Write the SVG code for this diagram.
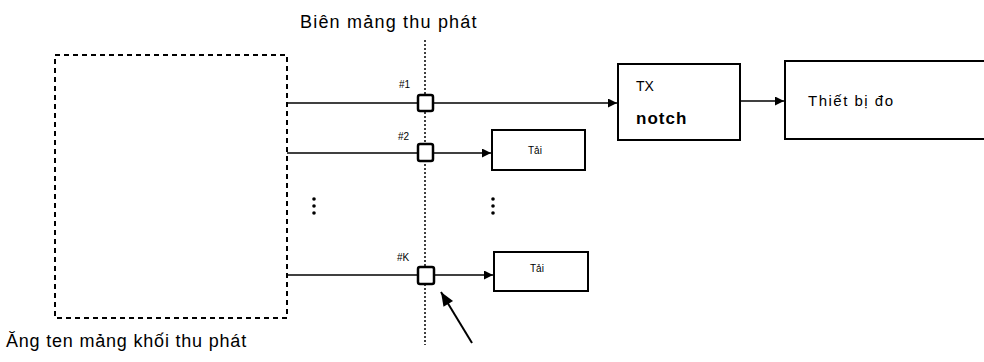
<svg xmlns="http://www.w3.org/2000/svg" width="984" height="362" viewBox="0 0 984 362">
<defs>
<marker id="ah" viewBox="0 0 10 10" refX="10" refY="5" markerWidth="10" markerHeight="9" orient="auto" markerUnits="userSpaceOnUse"><path d="M0,0 L10,5 L0,10 z" fill="#000"/></marker>
<marker id="ah2" viewBox="0 0 10 10" refX="10" refY="5" markerWidth="15" markerHeight="14" orient="auto" markerUnits="userSpaceOnUse"><path d="M0,1 L10,5 L0,9 z" fill="#000"/></marker>
</defs>
<style>
text{font-family:"Liberation Sans","DejaVu Sans",sans-serif;fill:#000}
.t{font-size:18px}
.s{font-size:10px}
.box{fill:#fff;stroke:#000;stroke-width:2}
.port{fill:#fff;stroke:#000;stroke-width:2.5}
.ln{stroke:#000;stroke-width:1.5;fill:none}
.dot{fill:#000}
</style>
<rect width="984" height="362" fill="#fff"/>
<g id="array">
<rect x="55" y="55" width="232" height="263" fill="none" stroke="#000" stroke-width="2" stroke-dasharray="5,4"/>
<text class="t" x="6" y="347" font-size="19" letter-spacing="0.8">Ăng ten mảng khối thu phát</text>
</g>
<g id="boundary">
<line x1="425" y1="40" x2="425" y2="345" stroke="#000" stroke-width="1.5" stroke-dasharray="2,2"/>
<text class="t" x="300" y="28" letter-spacing="1.2">Biên mảng thu phát</text>
</g>
<g id="connectors">
<line class="ln" x1="287" y1="103" x2="417" y2="103"/>
<line class="ln" x1="433" y1="103" x2="617" y2="103" marker-end="url(#ah)"/>
<line class="ln" x1="740" y1="101" x2="784" y2="101" marker-end="url(#ah)"/>
<line class="ln" x1="287" y1="153" x2="417" y2="153"/>
<line class="ln" x1="433" y1="153" x2="491" y2="153" marker-end="url(#ah)"/>
<line class="ln" x1="287" y1="275" x2="417" y2="275"/>
<line class="ln" x1="434" y1="275" x2="493" y2="275" marker-end="url(#ah)"/>
<line x1="472" y1="343" x2="441" y2="292" stroke="#000" stroke-width="2" marker-end="url(#ah2)"/>
</g>
<g id="port1">
<rect class="port" x="418" y="95" width="15" height="16" rx="2"/>
<text class="s" x="399" y="88">#1</text>
</g>
<g id="port2">
<rect class="port" x="418" y="144" width="15" height="17" rx="2"/>
<text class="s" x="398" y="140">#2</text>
</g>
<g id="portK">
<rect class="port" x="418" y="267" width="16" height="17" rx="2"/>
<text class="s" x="397" y="261">#K</text>
</g>
<g id="dots">
<circle class="dot" cx="314" cy="199" r="1.8"/>
<circle class="dot" cx="314" cy="206" r="1.8"/>
<circle class="dot" cx="314" cy="213" r="1.8"/>
<circle class="dot" cx="493" cy="199" r="1.8"/>
<circle class="dot" cx="493" cy="206" r="1.8"/>
<circle class="dot" cx="493" cy="213" r="1.8"/>
</g>
<g id="txnotch">
<rect class="box" x="618" y="64" width="122" height="76"/>
<text x="636" y="91" font-size="14">TX</text>
<text x="636" y="124" font-size="17" font-weight="bold" letter-spacing="1">notch</text>
</g>
<g id="meter">
<rect class="box" x="785" y="61" width="210" height="78"/>
<text x="808" y="106" font-size="15" letter-spacing="1.5">Thiết bị đo</text>
</g>
<g id="load2">
<rect class="box" x="492" y="130" width="93" height="40"/>
<text class="s" x="528" y="154">Tải</text>
</g>
<g id="loadK">
<rect class="box" x="494" y="252" width="94" height="39"/>
<text class="s" x="530" y="272">Tải</text>
</g>
</svg>
